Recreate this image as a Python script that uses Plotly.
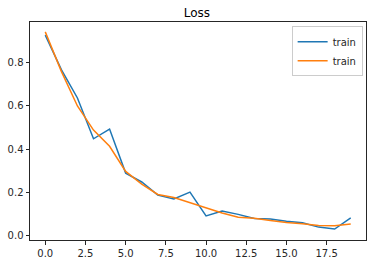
import plotly.graph_objects as go

epochs = list(range(20))
train_a = [0.928, 0.768, 0.637, 0.448, 0.493, 0.289, 0.248, 0.187, 0.169, 0.201,
           0.091, 0.113, 0.098, 0.079, 0.077, 0.066, 0.059, 0.039, 0.030, 0.082]
train_b = [0.943, 0.760, 0.600, 0.488, 0.413, 0.297, 0.238, 0.190, 0.176, 0.153,
           0.127, 0.104, 0.085, 0.080, 0.070, 0.060, 0.054, 0.046, 0.045, 0.053]

fig = go.Figure()
fig.add_trace(go.Scatter(x=epochs, y=train_a, mode="lines", name="train",
                         line=dict(color="#1f77b4", width=1.5)))
fig.add_trace(go.Scatter(x=epochs, y=train_b, mode="lines", name="train",
                         line=dict(color="#ff7f0e", width=1.5)))

axis_common = dict(showline=True, linecolor="#262626", linewidth=1, mirror=True,
                   ticks="outside", ticklen=3.5, tickcolor="#262626", tickwidth=0.8,
                   showgrid=False, zeroline=False, automargin=False,
                   tickfont=dict(family="DejaVu Sans", size=10, color="#262626"))

fig.update_layout(
    width=375, height=264,
    margin=dict(l=30, r=9, t=22, b=24),
    paper_bgcolor="white", plot_bgcolor="white",
    title=dict(text="Loss", x=0.525, xanchor="center", y=0.95, yanchor="middle",
               font=dict(family="DejaVu Sans", size=12, color="#000000"),
               automargin=False),
    xaxis=dict(range=[-0.95, 19.95], tickvals=[0, 2.5, 5, 7.5, 10, 12.5, 15, 17.5],
               ticktext=["0.0", "2.5", "5.0", "7.5", "10.0", "12.5", "15.0", "17.5"],
               **axis_common),
    yaxis=dict(range=[-0.0207, 0.9887], tickvals=[0, 0.2, 0.4, 0.6, 0.8],
               ticktext=["0.0", "0.2", "0.4", "0.6", "0.8"], **axis_common),
    legend=dict(x=0.99, xanchor="right", y=0.98, yanchor="top",
                bgcolor="rgba(255,255,255,0.8)", bordercolor="#cccccc", borderwidth=1,
                font=dict(family="DejaVu Sans", size=10, color="#262626"),
                tracegroupgap=0, itemwidth=30),
    showlegend=True,
)

fig.write_html("out.html")
